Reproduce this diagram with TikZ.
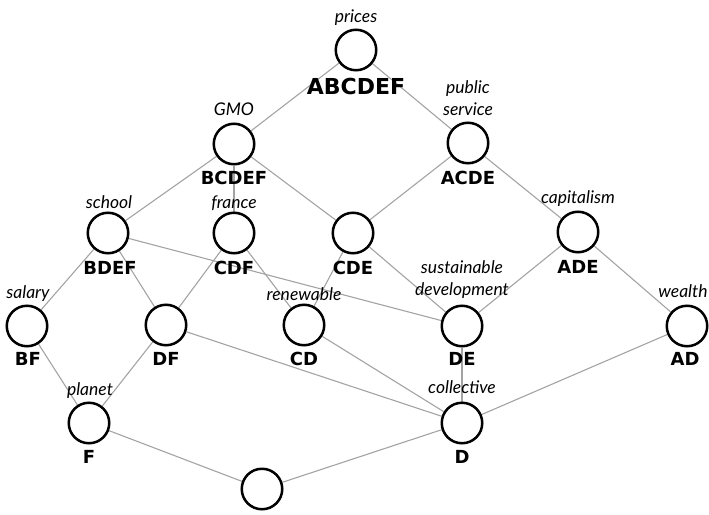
\documentclass[tikz,border=0pt]{standalone}
\usepackage{fontspec}
\setmainfont{Lato}
\newfontfamily\labfont{DejaVu Sans}
\usetikzlibrary{backgrounds}
\tikzset{
  vert/.style={circle, draw=black, line width=2.5pt, minimum size=40.5pt, inner sep=0pt},
  conn/.style={draw=black!36, line width=1.1pt},
  setname/.style={font=\labfont\bfseries\fontsize{18}{18}\selectfont, anchor=base, inner sep=0pt},
  bigname/.style={font=\labfont\bfseries\fontsize{22}{22}\selectfont, anchor=base, inner sep=0pt},
  attr/.style={font=\itshape\fontsize{17.5}{22}\selectfont, anchor=base, inner sep=0pt, align=center}
}
\begin{document}
\begin{tikzpicture}[x=1pt,y=-1pt]
\useasboundingbox (0,0) rectangle (709,514);
% vertices
\node[vert] (abcdef) at (356,50) {};
\node[vert] (bcdef) at (234,144) {};
\node[vert] (acde) at (468,143) {};
\node[vert] (bdef) at (108,233) {};
\node[vert] (cdf) at (234,233) {};
\node[vert] (cde) at (353,233) {};
\node[vert] (ade) at (578,232) {};
\node[vert] (bf) at (27,326) {};
\node[vert] (df) at (166,325) {};
\node[vert] (cd) at (304,325) {};
\node[vert] (de) at (462,326) {};
\node[vert] (ad) at (687,326) {};
\node[vert] (f) at (89,423) {};
\node[vert] (d) at (462,423) {};
\node[vert] (bot) at (262,489) {};
% set names
\node[bigname] (n1) at (356,94) {ABCDEF};
\node[setname] (n2) at (234,184) {BCDEF};
\node[setname] (n3) at (468,184) {ACDE};
\node[setname] (n4) at (110,274) {BDEF};
\node[setname] (n5) at (234,274) {CDF};
\node[setname] (n6) at (353,274) {CDE};
\node[setname] (n7) at (578,273) {ADE};
\node[setname] (n8) at (28,365) {BF};
\node[setname] (n9) at (166,365) {DF};
\node[setname] (n10) at (304,365) {CD};
\node[setname] (n11) at (462,365) {DE};
\node[setname] (n12) at (685,365) {AD};
\node[setname] (n13) at (89,463) {F};
\node[setname] (n14) at (462,463) {D};
% attributes
\node[attr] (a1) at (356,22) {prices};
\node[attr] (a2) at (234,115) {GMO};
\node[attr] (a3) at (468,115) {public\\service};
\node[attr] (a4) at (109,208) {school};
\node[attr] (a5) at (234,208) {france};
\node[attr] (a6) at (578,203) {capitalism};
\node[attr] (a7) at (28,298) {salary};
\node[attr] (a8) at (304,300) {renewable};
\node[attr] (a9) at (462,295) {sustainable\\development};
\node[attr] (a10) at (683,297) {wealth};
\node[attr] (a11) at (90,395) {planet};
\node[attr] (a12) at (462,393) {collective};
% connectors
\begin{scope}[on background layer]
\draw[conn] (abcdef) -- (bcdef);
\draw[conn] (abcdef) -- (acde);
\draw[conn] (bcdef) -- (bdef);
\draw[conn] (bcdef) -- (cdf);
\draw[conn] (bcdef) -- (cde);
\draw[conn] (acde) -- (cde);
\draw[conn] (acde) -- (ade);
\draw[conn] (bdef) -- (bf);
\draw[conn] (bdef) -- (df);
\draw[conn] (bdef) -- (de);
\draw[conn] (cdf) -- (df);
\draw[conn] (cdf) -- (cd);
\draw[conn] (cde) -- (cd);
\draw[conn] (cde) -- (de);
\draw[conn] (ade) -- (de);
\draw[conn] (ade) -- (ad);
\draw[conn] (bf) -- (f);
\draw[conn] (df) -- (f);
\draw[conn] (df) -- (d);
\draw[conn] (cd) -- (d);
\draw[conn] (de) -- (d);
\draw[conn] (ad) -- (d);
\draw[conn] (f) -- (bot);
\draw[conn] (d) -- (bot);
\end{scope}
\end{tikzpicture}
\end{document}
